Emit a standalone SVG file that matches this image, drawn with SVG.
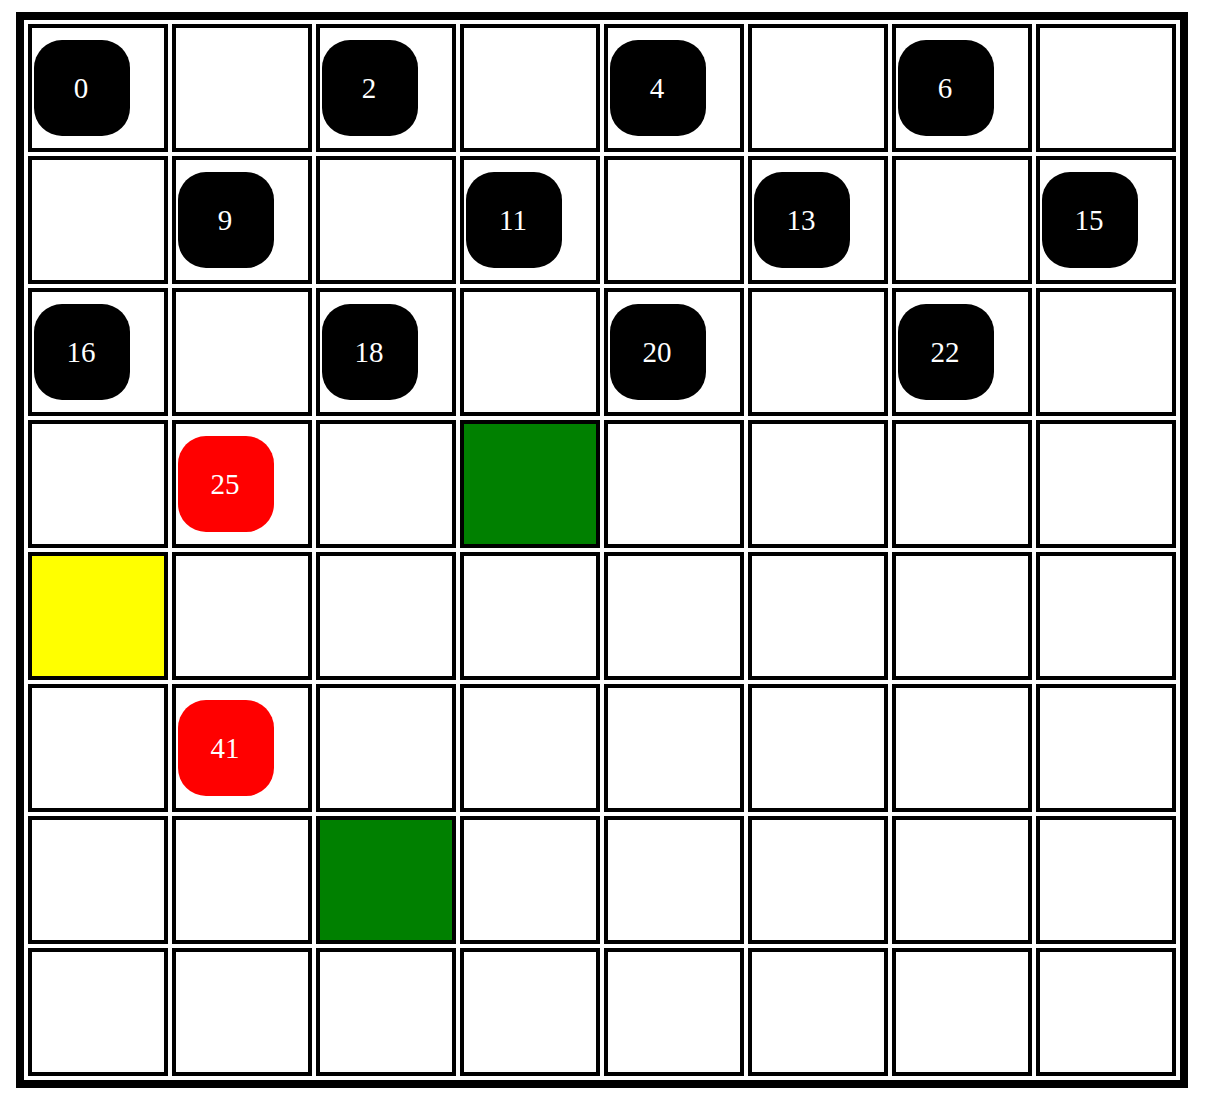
<svg xmlns="http://www.w3.org/2000/svg" width="1210" height="1108" viewBox="0 0 1210 1108">
<style>
.cell{fill:#ffffff;stroke:#000000;stroke-width:4}
.yellow{fill:#ffff00}
.green{fill:#008000}
.piece{stroke:none}
.black{fill:#000000}
.red{fill:#ff0000}
.lbl{font-family:"Liberation Serif","Times New Roman",serif;font-size:29px;fill:#ffffff;text-anchor:middle}
</style>
<rect x="0" y="0" width="1210" height="1108" fill="#ffffff"/>
<rect id="frame" x="20" y="16" width="1164" height="1068" fill="none" stroke="#000000" stroke-width="8"/>
<g id="cells">
<rect class="cell" x="30" y="26" width="136" height="124"/><rect class="cell" x="174" y="26" width="136" height="124"/><rect class="cell" x="318" y="26" width="136" height="124"/><rect class="cell" x="462" y="26" width="136" height="124"/><rect class="cell" x="606" y="26" width="136" height="124"/><rect class="cell" x="750" y="26" width="136" height="124"/><rect class="cell" x="894" y="26" width="136" height="124"/><rect class="cell" x="1038" y="26" width="136" height="124"/>
<rect class="cell" x="30" y="158" width="136" height="124"/><rect class="cell" x="174" y="158" width="136" height="124"/><rect class="cell" x="318" y="158" width="136" height="124"/><rect class="cell" x="462" y="158" width="136" height="124"/><rect class="cell" x="606" y="158" width="136" height="124"/><rect class="cell" x="750" y="158" width="136" height="124"/><rect class="cell" x="894" y="158" width="136" height="124"/><rect class="cell" x="1038" y="158" width="136" height="124"/>
<rect class="cell" x="30" y="290" width="136" height="124"/><rect class="cell" x="174" y="290" width="136" height="124"/><rect class="cell" x="318" y="290" width="136" height="124"/><rect class="cell" x="462" y="290" width="136" height="124"/><rect class="cell" x="606" y="290" width="136" height="124"/><rect class="cell" x="750" y="290" width="136" height="124"/><rect class="cell" x="894" y="290" width="136" height="124"/><rect class="cell" x="1038" y="290" width="136" height="124"/>
<rect class="cell" x="30" y="422" width="136" height="124"/><rect class="cell" x="174" y="422" width="136" height="124"/><rect class="cell" x="318" y="422" width="136" height="124"/><rect class="cell green" x="462" y="422" width="136" height="124"/><rect class="cell" x="606" y="422" width="136" height="124"/><rect class="cell" x="750" y="422" width="136" height="124"/><rect class="cell" x="894" y="422" width="136" height="124"/><rect class="cell" x="1038" y="422" width="136" height="124"/>
<rect class="cell yellow" x="30" y="554" width="136" height="124"/><rect class="cell" x="174" y="554" width="136" height="124"/><rect class="cell" x="318" y="554" width="136" height="124"/><rect class="cell" x="462" y="554" width="136" height="124"/><rect class="cell" x="606" y="554" width="136" height="124"/><rect class="cell" x="750" y="554" width="136" height="124"/><rect class="cell" x="894" y="554" width="136" height="124"/><rect class="cell" x="1038" y="554" width="136" height="124"/>
<rect class="cell" x="30" y="686" width="136" height="124"/><rect class="cell" x="174" y="686" width="136" height="124"/><rect class="cell" x="318" y="686" width="136" height="124"/><rect class="cell" x="462" y="686" width="136" height="124"/><rect class="cell" x="606" y="686" width="136" height="124"/><rect class="cell" x="750" y="686" width="136" height="124"/><rect class="cell" x="894" y="686" width="136" height="124"/><rect class="cell" x="1038" y="686" width="136" height="124"/>
<rect class="cell" x="30" y="818" width="136" height="124"/><rect class="cell" x="174" y="818" width="136" height="124"/><rect class="cell green" x="318" y="818" width="136" height="124"/><rect class="cell" x="462" y="818" width="136" height="124"/><rect class="cell" x="606" y="818" width="136" height="124"/><rect class="cell" x="750" y="818" width="136" height="124"/><rect class="cell" x="894" y="818" width="136" height="124"/><rect class="cell" x="1038" y="818" width="136" height="124"/>
<rect class="cell" x="30" y="950" width="136" height="124"/><rect class="cell" x="174" y="950" width="136" height="124"/><rect class="cell" x="318" y="950" width="136" height="124"/><rect class="cell" x="462" y="950" width="136" height="124"/><rect class="cell" x="606" y="950" width="136" height="124"/><rect class="cell" x="750" y="950" width="136" height="124"/><rect class="cell" x="894" y="950" width="136" height="124"/><rect class="cell" x="1038" y="950" width="136" height="124"/>
</g>
<g id="piece-0"><rect class="piece black" x="34" y="40" width="96" height="96" rx="28"/><text class="lbl" x="81" y="98">0</text></g>
<g id="piece-2"><rect class="piece black" x="322" y="40" width="96" height="96" rx="28"/><text class="lbl" x="369" y="98">2</text></g>
<g id="piece-4"><rect class="piece black" x="610" y="40" width="96" height="96" rx="28"/><text class="lbl" x="657" y="98">4</text></g>
<g id="piece-6"><rect class="piece black" x="898" y="40" width="96" height="96" rx="28"/><text class="lbl" x="945" y="98">6</text></g>
<g id="piece-9"><rect class="piece black" x="178" y="172" width="96" height="96" rx="28"/><text class="lbl" x="225" y="230">9</text></g>
<g id="piece-11"><rect class="piece black" x="466" y="172" width="96" height="96" rx="28"/><text class="lbl" x="513" y="230">11</text></g>
<g id="piece-13"><rect class="piece black" x="754" y="172" width="96" height="96" rx="28"/><text class="lbl" x="801" y="230">13</text></g>
<g id="piece-15"><rect class="piece black" x="1042" y="172" width="96" height="96" rx="28"/><text class="lbl" x="1089" y="230">15</text></g>
<g id="piece-16"><rect class="piece black" x="34" y="304" width="96" height="96" rx="28"/><text class="lbl" x="81" y="362">16</text></g>
<g id="piece-18"><rect class="piece black" x="322" y="304" width="96" height="96" rx="28"/><text class="lbl" x="369" y="362">18</text></g>
<g id="piece-20"><rect class="piece black" x="610" y="304" width="96" height="96" rx="28"/><text class="lbl" x="657" y="362">20</text></g>
<g id="piece-22"><rect class="piece black" x="898" y="304" width="96" height="96" rx="28"/><text class="lbl" x="945" y="362">22</text></g>
<g id="piece-25"><rect class="piece red" x="178" y="436" width="96" height="96" rx="28"/><text class="lbl" x="225" y="494">25</text></g>
<g id="piece-41"><rect class="piece red" x="178" y="700" width="96" height="96" rx="28"/><text class="lbl" x="225" y="758">41</text></g>
</svg>
